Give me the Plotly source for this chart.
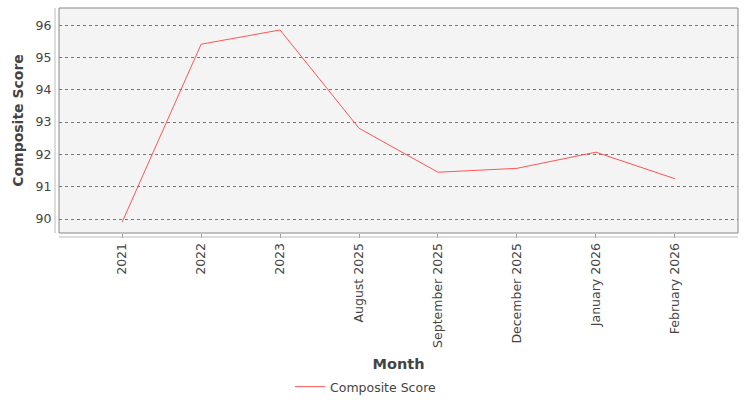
import plotly.graph_objects as go

months = ["2021", "2022", "2023", "August 2025", "September 2025",
          "December 2025", "January 2026", "February 2026"]
composite_score = [89.91, 95.41, 95.85, 92.81, 91.45, 91.57, 92.07, 91.25]
y_ticks = [90, 91, 92, 93, 94, 95, 96]

W, H = 750, 400
L, R, T, B = 59, 12, 8, 167
pw = W - L - R
ph = H - T - B

fig = go.Figure()
fig.add_trace(go.Scatter(
    x=list(range(len(months))), y=composite_score, mode="lines",
    name="Composite Score", line=dict(color="#ff5555", width=1),
    showlegend=True,
))

font = "DejaVu Sans"
fig.update_layout(
    width=W, height=H,
    margin=dict(l=L, r=R, t=T, b=B),
    paper_bgcolor="white",
    plot_bgcolor="#f4f4f4",
    font=dict(family=font, size=12.5, color="#444444"),
    showlegend=True,
    legend=dict(orientation="h", x=0.5 - 9 / W, xanchor="center", xref="container",
                y=1 - 387 / 400, yref="container", yanchor="middle",
                font=dict(size=12.5, color="#444444"), bgcolor="rgba(0,0,0,0)",
                itemwidth=30),
    xaxis=dict(
        range=[-0.8, len(months) - 1 + 0.8],
        tickmode="array", tickvals=list(range(len(months))), ticktext=months,
        tickangle=-90, showgrid=False, zeroline=False, showline=False,
        ticks="outside", ticklen=4, tickcolor="#999999",
        title=dict(text="<b>Month</b>", font=dict(size=14.5, color="#444444"), standoff=15),
        automargin=False,
        fixedrange=True,
    ),
    yaxis=dict(
        range=[89.57, 96.53],
        tickmode="array", tickvals=y_ticks, ticktext=[str(v) for v in y_ticks],
        showgrid=True, gridcolor="#777777", griddash="dot", gridwidth=1,
        zeroline=False, showline=False,
        ticks="outside", ticklen=4, tickcolor="rgba(0,0,0,0)",
        title=dict(text="<b>Composite Score</b>", font=dict(size=14, color="#444444"), standoff=8),
        automargin=False,
        fixedrange=True,
    ),
    shapes=[
        dict(type="rect", xref="paper", yref="paper", x0=0, x1=1, y0=0, y1=1,
             line=dict(color="#888888", width=1), fillcolor="rgba(0,0,0,0)", layer="above"),
        dict(type="line", xref="paper", yref="paper", x0=-4 / pw, x1=-4 / pw, y0=0, y1=1,
             line=dict(color="#bbbbbb", width=1)),
        dict(type="line", xref="paper", yref="paper", x0=0, x1=1, y0=-4 / ph, y1=-4 / ph,
             line=dict(color="#bbbbbb", width=1)),
    ],
)

fig.write_html("out.html")
